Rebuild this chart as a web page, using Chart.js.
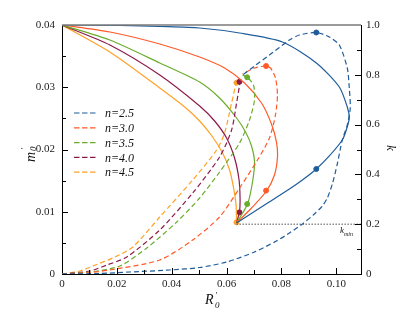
<!DOCTYPE html>
<html>
<head>
<meta charset="utf-8">
<script src="https://cdn.jsdelivr.net/npm/chart.js@4"></script>
<style>
  html, body { margin: 0; padding: 0; background: #fff; }
  #wrap { width: 415px; height: 311px; }
</style>
</head>
<body>
<div id="wrap"><canvas id="chart" width="415" height="311"></canvas></div>
<script>
// series labels
const nLabels = ['n=2.5', 'n=3.0', 'n=3.5', 'n=4.0', 'n=4.5'];

// m'_0 against R'_0 (solid, left axis)
const m25 = [[0,0.04],[0.02109,0.03992],[0.03564,0.03976],[0.05018,0.03952],[0.06473,0.03871],[0.08036,0.03727],[0.09273,0.0339],[0.10109,0.03004],[0.104,0.02683],[0.10473,0.02506],[0.10364,0.02313],[0.10218,0.02153],[0.09745,0.01896],[0.09273,0.01687],[0.08764,0.0151],[0.08291,0.01365],[0.07382,0.01108],[0.06364,0.0082]];
const m30 = [[0,0.04],[0.01745,0.03888],[0.03564,0.03695],[0.05018,0.03486],[0.05927,0.03309],[0.06655,0.03068],[0.07273,0.02747],[0.07636,0.02410],[0.07818,0.0212],[0.07855,0.01879],[0.07745,0.0159],[0.07455,0.01333],[0.06909,0.0106],[0.06364,0.0082]];
const m35 = [[0,0.04],[0.01745,0.03759],[0.03564,0.0339],[0.05018,0.03084],[0.05745,0.02827],[0.06364,0.02506],[0.06691,0.02281],[0.06909,0.02056],[0.07018,0.01799],[0.06945,0.01478],[0.06764,0.01124],[0.06364,0.0082]];
const m40 = [[0,0.04],[0.01745,0.03679],[0.03564,0.03197],[0.05018,0.02699],[0.05564,0.02458],[0.06,0.02185],[0.06291,0.01863],[0.06455,0.01510],[0.06491,0.01221],[0.06473,0.0101],[0.06364,0.0082]];
const m45 = [[0,0.04],[0.01745,0.03566],[0.03564,0.02988],[0.04473,0.02683],[0.05018,0.02458],[0.05491,0.02201],[0.05855,0.01944],[0.06109,0.01671],[0.06255,0.01382],[0.06345,0.01108],[0.06364,0.0082]];

// k against R'_0 (dashed, right axis)
const k25 = [[0,0],[0.01382,0.002],[0.02473,0.008],[0.03927,0.0161],[0.05018,0.0261],[0.06,0.0482],[0.07018,0.0884],[0.07818,0.1325],[0.08291,0.1647],[0.08764,0.2008],[0.09200,0.2410],[0.09491,0.2731],[0.09673,0.3052],[0.09855,0.3614],[0.10036,0.4418],[0.10218,0.5382],[0.104,0.5984],[0.10509,0.6667],[0.10473,0.747],[0.104,0.8273],[0.10109,0.9197],[0.09745,0.9518],[0.09273,0.9699],[0.08655,0.9598],[0.08291,0.9398],[0.07564,0.8795],[0.07018,0.8353],[0.06582,0.7992]];
const k30 = [[0,0],[0.01018,0.006],[0.01745,0.0161],[0.03564,0.0562],[0.04764,0.1365],[0.05745,0.2289],[0.06473,0.3454],[0.07127,0.4578],[0.07564,0.5462],[0.07782,0.6386],[0.07855,0.7189],[0.07782,0.7871],[0.076,0.8273],[0.07418,0.8353],[0.07018,0.8273],[0.06582,0.8032]];
const k35 = [[0,0],[0.01018,0.008],[0.02109,0.0321],[0.03091,0.1044],[0.04182,0.2088],[0.05018,0.3052],[0.05745,0.4096],[0.06473,0.5261],[0.06836,0.6185],[0.07018,0.6988],[0.06982,0.759],[0.06753,0.79],[0.06582,0.7992]];
const k40 = [[0,0],[0.01018,0.012],[0.01636,0.0361],[0.02364,0.0683],[0.03564,0.1767],[0.04764,0.3253],[0.05745,0.4699],[0.06182,0.5783],[0.06364,0.6867],[0.06473,0.759],[0.06473,0.7723],[0.0644,0.78]];
const k45 = [[0,0],[0.00655,0.012],[0.01127,0.0321],[0.01927,0.0683],[0.02582,0.1084],[0.03564,0.2289],[0.04764,0.3775],[0.05636,0.498],[0.05927,0.5663],[0.06182,0.6867],[0.0635,0.7683]];

// marked points, one per n
const markR = [0.0927, 0.0744, 0.0675, 0.0647, 0.0636];
const markM = [0.01687, 0.0134, 0.01124, 0.0099, 0.0083];
const markK = [0.9699, 0.8353, 0.79, 0.7723, 0.7683];

// k_min line
const kMinR = [0.0636, 0.109];
const kMin = 0.2;

const colors = ['#1f5c9c', '#ff5a28', '#6aad2c', '#8c1b4a', '#ffa126'];
const serif = '"Liberation Serif", "DejaVu Serif", serif';
Chart.defaults.font.family = serif;

const mCurves = [m25, m30, m35, m40, m45];
const kCurves = [k25, k30, k35, k40, k45];
const pts = arr => arr.map(p => ({x: p[0], y: p[1]}));

const datasets = [];
kCurves.forEach((c, i) => datasets.push({
  data: pts(c), yAxisID: 'y1', borderColor: colors[i], borderWidth: 1.2,
  borderDash: [5, 3], pointRadius: 0, showLine: true, tension: 0.25, fill: false
}));
mCurves.forEach((c, i) => datasets.push({
  data: pts(c), yAxisID: 'y', borderColor: colors[i], borderWidth: 1.2,
  pointRadius: 0, showLine: true, tension: 0.25, fill: false
}));
datasets.push({
  data: kMinR.map(r => ({x: r, y: kMin})), yAxisID: 'y1', borderColor: '#555',
  borderWidth: 1, borderDash: [1.5, 1.5], pointRadius: 0, showLine: true
});
markR.forEach((r, i) => {
  datasets.push({data: [{x: r, y: markM[i]}], yAxisID: 'y', pointRadius: 2.5,
    pointBackgroundColor: colors[i], pointBorderColor: colors[i], showLine: false});
  datasets.push({data: [{x: r, y: markK[i]}], yAxisID: 'y1', pointRadius: 2.5,
    pointBackgroundColor: colors[i], pointBorderColor: colors[i], showLine: false});
});

// inward ticks, top border, legend, axis titles
const extras = {
  id: 'extras',
  afterDraw(chart) {
    const {ctx, chartArea: a, scales} = chart;
    ctx.save();
    ctx.strokeStyle = '#000';
    ctx.lineWidth = 1;
    const line = (x1, y1, x2, y2) => { ctx.beginPath(); ctx.moveTo(x1, y1); ctx.lineTo(x2, y2); ctx.stroke(); };
    for (let i = 1; i <= 10; i++) {
      const x = Math.round(scales.x.getPixelForValue(i * 0.01)) + 0.5;
      line(x, a.bottom, x, a.bottom - (i % 2 ? 4 : 6));
    }
    for (let i = 1; i < 8; i++) {
      const y = Math.round(scales.y.getPixelForValue(i * 0.005)) + 0.5;
      line(a.left, y, a.left + (i % 2 ? 4 : 6), y);
    }
    for (let i = 1; i < 10; i++) {
      const y = Math.round(scales.y1.getPixelForValue(i * 0.1)) + 0.5;
      line(a.right, y, a.right - (i % 2 ? 4 : 6), y);
    }
    ctx.strokeStyle = '#7a7a7a';
    ctx.lineWidth = 1.5;
    line(a.left, a.top, a.right, a.top);

    // legend
    ctx.lineWidth = 1.2;
    ctx.setLineDash([5.5, 2.5]);
    ctx.font = 'italic 12px ' + serif;
    ctx.textBaseline = 'middle';
    nLabels.forEach((lab, i) => {
      const y = a.top + 88 + i * 14.8;
      ctx.strokeStyle = colors[i];
      line(a.left + 12, y, a.left + 35, y);
      ctx.fillStyle = '#111';
      ctx.fillText(lab, a.left + 43, y + 1);
    });
    ctx.setLineDash([]);

    // axis titles
    ctx.fillStyle = '#111';
    ctx.textBaseline = 'alphabetic';
    ctx.save();
    ctx.translate(35, 162);
    ctx.rotate(-Math.PI / 2);
    ctx.font = 'italic 14px ' + serif;
    ctx.fillText('m', 0, 0);
    ctx.font = 'italic 9px ' + serif;
    ctx.fillText('\u2032', 12, -8);
    ctx.fillText('0', 11, 1);
    ctx.restore();

    ctx.font = 'italic 14px ' + serif;
    ctx.fillText('R', 205, 304);
    ctx.font = 'italic 9px ' + serif;
    ctx.fillText('\u2032', 215, 298);
    ctx.fillText('0', 215, 308);

    ctx.save();
    ctx.translate(387, 145);
    ctx.rotate(Math.PI / 2);
    ctx.font = 'italic 13px ' + serif;
    ctx.fillText('k', 0, 0);
    ctx.restore();

    ctx.font = 'italic 9px ' + serif;
    ctx.fillText('k', 340, 233);
    ctx.font = 'italic 6px ' + serif;
    ctx.fillText('min', 344, 236);
    ctx.restore();
  }
};

const tickFont = {family: serif, size: 11};

new Chart(document.getElementById('chart'), {
  type: 'scatter',
  data: {datasets},
  options: {
    responsive: false,
    animation: false,
    events: [],
    layout: {padding: {top: 25, left: 0, right: 0, bottom: 0}},
    plugins: {legend: {display: false}, tooltip: {enabled: false}},
    scales: {
      x: {
        type: 'linear', min: 0, max: 0.109,
        grid: {display: false, drawTicks: false},
        border: {display: true, color: '#000', width: 1},
        ticks: {stepSize: 0.02, includeBounds: false, font: tickFont, color: '#222', padding: 4, maxRotation: 0},
        afterFit: s => { s.height = 37; }
      },
      y: {
        type: 'linear', position: 'left', min: 0, max: 0.04,
        grid: {display: false, drawTicks: false},
        border: {display: true, color: '#000', width: 1},
        ticks: {stepSize: 0.01, font: tickFont, color: '#222', padding: 7},
        afterFit: s => { s.width = 62; }
      },
      y1: {
        type: 'linear', position: 'right', min: 0, max: 1,
        grid: {display: false, drawTicks: false},
        border: {display: true, color: '#000', width: 1},
        ticks: {stepSize: 0.2, font: tickFont, color: '#222', padding: 5},
        afterFit: s => { s.width = 54; }
      }
    }
  },
  plugins: [extras]
});
</script>
</body>
</html>
